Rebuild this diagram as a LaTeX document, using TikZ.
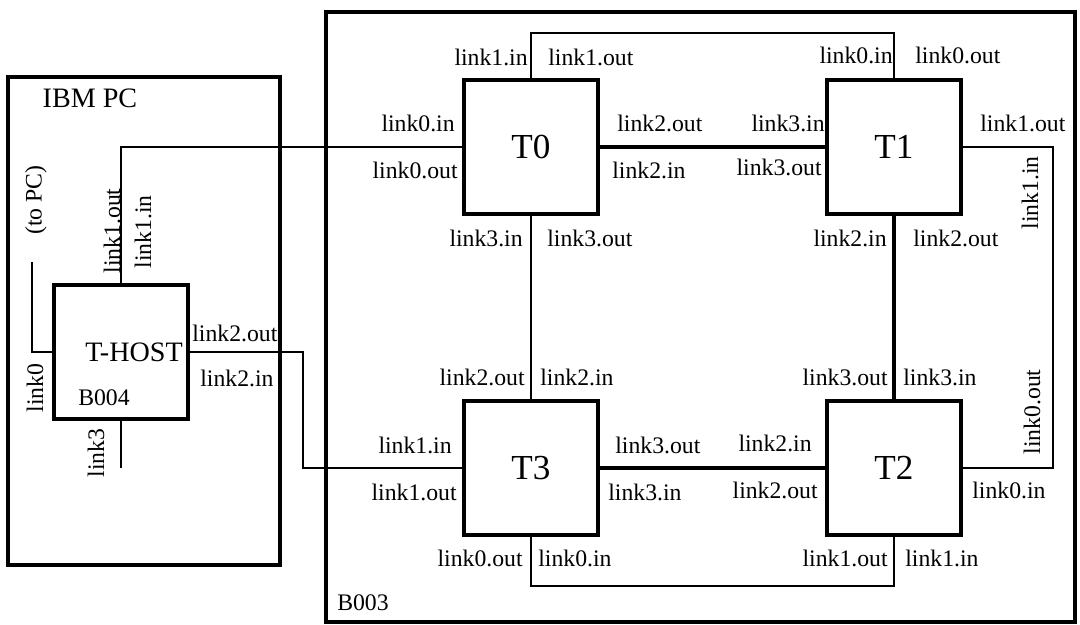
\documentclass[tikz,border=0pt]{standalone}
\usepackage{fontspec}
\setmainfont{Liberation Serif}
\usetikzlibrary{positioning}

\begin{document}
\begin{tikzpicture}[x=0.02cm,y=-0.02cm,
    transputer/.style={draw,line width=2.2pt,minimum size=2.68cm,inner sep=0pt,font=\fontsize{20}{22}\selectfont},
    port/.style={inner sep=0pt,font=\fontsize{13.5}{16}\selectfont},
    link/.style={line width=1.1pt},
    hardlink/.style={line width=2.4pt},
    board/.style={line width=2.1pt}]
  \useasboundingbox (0,0) rectangle (1080,625);

  % boards
  \draw[board] (8,77) rectangle (280,565);
  \draw[board] (326,12) rectangle (1075,622);
  \node[port,font=\fontsize{16}{18}\selectfont] (pcname) at (90,98) {IBM PC};
  \node[port] (b003) at (363,603) {B003};

  % transputers
  \node[transputer] (H) at (121,352) {};
  \node[port,font=\fontsize{16}{18}\selectfont] (hostname) at (134,352) {T-HOST};
  \node[port] (b004) at (104,398) {B004};
  \node[transputer] (T0) at (531,147) {T0};
  \node[transputer] (T1) [right=4.5cm of T0] {T1};
  \node[transputer] (T3) [below=3.66cm of T0] {T3};
  \node[transputer] (T2) [right=4.5cm of T3] {T2};

  \coordinate (pc) at (32,262);
  \coordinate (h3) at (121,468);

  % links
  \draw[link] (H.west) -| (pc);
  \draw[link] (H.south) -- (h3);
  \draw[link] (H.north) |- (T0.west);
  \draw[link] (H.east) -- ++(113,0) |- (T3.west);
  \draw[hardlink] (T0.east) -- (T1.west);
  \draw[hardlink] (T3.east) -- (T2.west);
  \draw[hardlink] (T1.south) -- (T2.north);
  \draw[line width=1.7pt] (T0.south) -- (T3.north);
  \draw[link] (T0.north) -- ++(0,-45) -| (T1.north);
  \draw[link] (T1.east) -- ++(90,0) |- (T2.east);
  \draw[link] (T3.south) -- ++(0,49) -| (T2.south);

  % host ports
  \node[port,rotate=90] (hpc) at (36,200) {(to PC)};
  \node[port,rotate=90] (h0) at (35,388) {link0};
  \node[port,rotate=90] (h1o) at (112,231) {link1.out};
  \node[port,rotate=90] (h1i) at (143,232) {link1.in};
  \node[port,rotate=90] (h3l) at (96,453) {link3};
  \node[port,anchor=west] (h2o) at (192,333) {link2.out};
  \node[port,anchor=west] (h2i) at (200,378) {link2.in};

  % T0 ports
  \node[port,anchor=east] (t01i) at (528,57) {link1.in};
  \node[port,anchor=west] (t01o) at (548,57) {link1.out};
  \node[port,anchor=east] (t00i) at (455,123) {link0.in};
  \node[port,anchor=east] (t00o) at (458,170) {link0.out};
  \node[port,anchor=west] (t02o) at (617,123) {link2.out};
  \node[port,anchor=west] (t02i) at (612,170) {link2.in};
  \node[port,anchor=east] (t03i) at (523,238) {link3.in};
  \node[port,anchor=west] (t03o) at (547,238) {link3.out};

  % T1 ports
  \node[port,anchor=east] (t10i) at (893,55) {link0.in};
  \node[port,anchor=west] (t10o) at (915,55) {link0.out};
  \node[port,anchor=east] (t13i) at (825,123) {link3.in};
  \node[port,anchor=east] (t13o) at (822,167) {link3.out};
  \node[port,anchor=west] (t11o) at (980,123) {link1.out};
  \node[port,rotate=90] (t11i) at (1030,193) {link1.in};
  \node[port,anchor=east] (t12i) at (887,238) {link2.in};
  \node[port,anchor=west] (t12o) at (913,238) {link2.out};

  % T2 ports
  \node[port,anchor=east] (t23o) at (888,377) {link3.out};
  \node[port,anchor=west] (t23i) at (903,377) {link3.in};
  \node[port,rotate=90] (t20o) at (1032,412) {link0.out};
  \node[port,anchor=east] (t22i) at (812,443) {link2.in};
  \node[port,anchor=east] (t22o) at (818,490) {link2.out};
  \node[port,anchor=west] (t20i) at (972,490) {link0.in};
  \node[port,anchor=east] (t21o) at (888,558) {link1.out};
  \node[port,anchor=west] (t21i) at (905,558) {link1.in};

  % T3 ports
  \node[port,anchor=east] (t32o) at (525,377) {link2.out};
  \node[port,anchor=west] (t32i) at (540,377) {link2.in};
  \node[port,anchor=east] (t31i) at (452,445) {link1.in};
  \node[port,anchor=east] (t31o) at (457,492) {link1.out};
  \node[port,anchor=west] (t33o) at (615,445) {link3.out};
  \node[port,anchor=west] (t33i) at (608,492) {link3.in};
  \node[port,anchor=east] (t30o) at (523,558) {link0.out};
  \node[port,anchor=west] (t30i) at (538,558) {link0.in};
\end{tikzpicture}
\end{document}
